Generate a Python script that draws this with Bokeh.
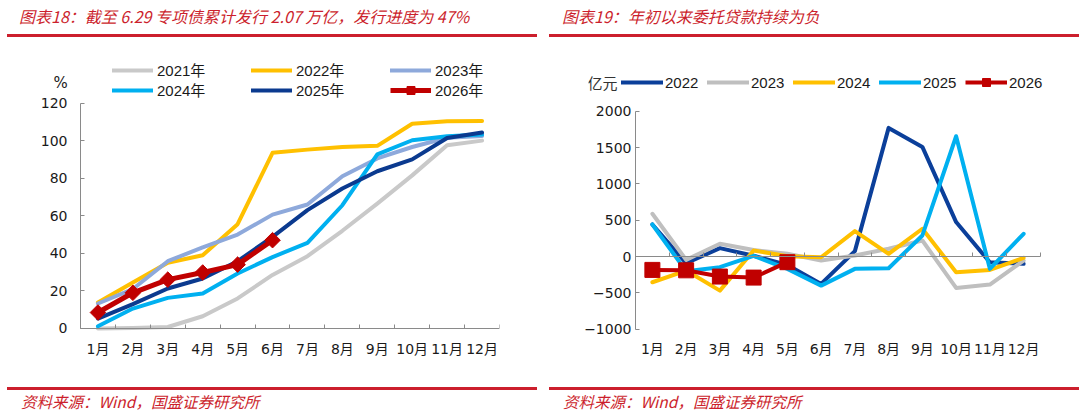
from bokeh.plotting import figure
from bokeh.layouts import column, row
from bokeh.models import Div, Legend, LegendItem, Label, LinearAxis, FixedTicker, Range1d
from bokeh.embed import file_html
from bokeh.resources import INLINE
import numpy as np

# ---------------- data ----------------
months = ["1月", "2月", "3月", "4月", "5月", "6月", "7月", "8月", "9月", "10月", "11月", "12月"]
month_pos = list(range(1, 13))

# 专项债累计发行进度（%）
prog_2021 = [0.0, 0.2, 0.8, 6.5, 16.0, 28.5, 38.5, 52.0, 66.5, 81.5, 97.5, 100.0]
prog_2022 = [13.8, 24.5, 35.0, 39.0, 55.5, 93.5, 95.2, 96.6, 97.2, 109.0, 110.3, 110.5]
prog_2023 = [13.3, 21.0, 35.8, 43.2, 50.0, 60.6, 66.0, 81.0, 90.5, 96.6, 101.5, 102.5]
prog_2024 = [1.2, 10.6, 16.3, 18.6, 29.3, 38.0, 45.6, 65.6, 92.7, 100.2, 102.3, 103.2]
prog_2025 = [5.3, 13.0, 21.3, 26.6, 35.8, 48.8, 63.0, 74.5, 83.7, 90.0, 101.4, 104.3]
prog_2026 = [8.5, 19.0, 26.0, 29.8, 34.0, 47.0]
prog_ticks = [0, 20, 40, 60, 80, 100, 120]

# 委托贷款当月新增（亿元）
loan_2022 = [441, -92, 115, 10, -115, -377, 74, 1770, 1508, 474, -80, -101]
loan_2023 = [588, -46, 175, 90, 37, -55, 14, 106, 220, -432, -386, -55]
loan_2024 = [-354, -193, -469, 83, 5, -10, 349, 37, 382, -216, -184, -18]
loan_2025 = [441, -202, -147, 9, -170, -400, -170, -161, 290, 1655, -170, 313]
loan_2026 = [-184, -190, -276, -290, -78]
loan_ticks = [-1000, -500, 0, 500, 1000, 1500, 2000]

# ---------------- styles ----------------
RED = "#C00000"
TITLE_RED = "#CC1F2D"
AXIS_GREY = "#8A8A8A"
TEXT = "#1A1A1A"
TICK_FONT = "DejaVu Sans, Noto Sans CJK SC"
LEG_FONT = "Liberation Sans, Noto Sans CJK SC"
CJK_FONT = "Noto Sans CJK SC"
boundaries = [0.5 + i for i in range(13)]


def header(text, line_left, line_width, text_left):
    html = (
        '<div style="position:relative;width:540px;height:38px;overflow:hidden;">'
        f'<div style="position:absolute;left:{text_left}px;top:5px;white-space:nowrap;'
        f'font-family:\'{CJK_FONT}\';font-style:italic;font-size:16px;line-height:22px;'
        f'color:{TITLE_RED};">{text}</div>'
        f'<div style="position:absolute;left:{line_left}px;top:34px;width:{line_width}px;'
        f'height:3px;background:{TITLE_RED};"></div></div>'
    )
    return Div(text=html, width=540, height=38, margin=0)


def footer(text, line_left, line_width, text_left):
    html = (
        '<div style="position:relative;width:540px;height:32px;overflow:hidden;">'
        f'<div style="position:absolute;left:{line_left}px;top:4px;width:{line_width}px;'
        f'height:3px;background:{TITLE_RED};"></div>'
        f'<div style="position:absolute;left:{text_left}px;top:8px;white-space:nowrap;'
        f'font-family:\'{CJK_FONT}\';font-style:italic;font-size:15.5px;line-height:20px;'
        f'color:{TITLE_RED};">{text}</div></div>'
    )
    return Div(text=html, width=540, height=32, margin=0)


def make_fig(x_range, y_range, left, right):
    p = figure(width=540, height=345, x_range=Range1d(*x_range), y_range=Range1d(*y_range),
               output_backend="svg", toolbar_location=None, margin=0,
               min_border_left=left, min_border_right=right,
               min_border_top=17, min_border_bottom=49,
               outline_line_color=None, background_fill_color="white",
               border_fill_color="white")
    p.grid.visible = False
    return p


def add_axes(p, yticks, y_standoff):
    # tick labels of the value axis (line drawn by the axis fixed at the first category edge)
    ya = p.yaxis[0]
    ya.ticker = FixedTicker(ticks=yticks)
    ya.bounds = (yticks[0], yticks[-1])
    ya.axis_line_color = None
    ya.major_tick_line_color = None
    ya.minor_tick_line_color = None
    ya.major_tick_in = 0
    ya.major_tick_out = 0
    ya.major_label_text_font = TICK_FONT
    ya.major_label_text_font_size = "14px"
    ya.major_label_text_color = TEXT
    ya.major_label_standoff = y_standoff

    y_rule = LinearAxis(fixed_location=0.5, ticker=FixedTicker(ticks=[], minor_ticks=yticks),
                        bounds=(yticks[0], yticks[-1]), axis_line_color=AXIS_GREY,
                        minor_tick_line_color=AXIS_GREY, minor_tick_in=4, minor_tick_out=0,
                        major_tick_in=0, major_tick_out=0, major_label_text_font_size="0px")
    p.add_layout(y_rule, "left")

    # month labels along the bottom
    xa = p.xaxis[0]
    xa.ticker = FixedTicker(ticks=month_pos)
    xa.major_label_overrides = {m: lab for m, lab in zip(month_pos, months)}
    xa.major_label_text_font = TICK_FONT
    xa.major_label_text_font_size = "14px"
    xa.major_label_text_color = TEXT
    xa.major_label_standoff = 6
    xa.major_tick_line_color = None
    xa.minor_tick_line_color = None
    xa.major_tick_in = 0
    xa.major_tick_out = 0
    xa.axis_line_color = None

    # category axis line along zero with marks at category edges
    x_rule = LinearAxis(fixed_location=0, ticker=FixedTicker(ticks=[], minor_ticks=boundaries),
                        bounds=(0.5, 12.5), axis_line_color=AXIS_GREY,
                        minor_tick_line_color=AXIS_GREY, minor_tick_in=4, minor_tick_out=0,
                        major_tick_in=0, major_tick_out=0, major_label_text_font_size="0px")
    p.add_layout(x_rule, "below")


line_kw = dict(line_width=4, line_join="round", line_cap="round")
leg_kw = dict(orientation="horizontal", padding=0, margin=0, spacing=0,
              border_line_color=None, background_fill_alpha=0,
              glyph_height=20, label_height=20,
              label_text_font=LEG_FONT, label_text_font_size="15px",
              label_text_color=TEXT, label_text_baseline="middle")

# ---------------- left: 专项债发行进度 ----------------
p1 = make_fig((-0.359, 12.5), (-3.2, 145.3), 50, 41)
add_axes(p1, prog_ticks, -17)

r21 = p1.line(month_pos, prog_2021, color="#C9C9C9", **line_kw)
r22 = p1.line(month_pos, prog_2022, color="#FFC000", **line_kw)
r23 = p1.line(month_pos, prog_2023, color="#8EA9DB", **line_kw)
r24 = p1.line(month_pos, prog_2024, color="#00B0F0", **line_kw)
r25 = p1.line(month_pos, prog_2025, color="#0B3A8F", **line_kw)
x26 = month_pos[:len(prog_2026)]
r26 = p1.line(x26, prog_2026, color=RED, line_width=5, line_join="round")
# small marker (hidden under the large ones) used as the legend symbol
r26k = p1.scatter(x26, prog_2026, marker="square", angle=np.pi / 4, size=6, color=RED)
r26m = p1.scatter(x26, prog_2026, marker="square", angle=np.pi / 4, size=11, color=RED)

leg1a = Legend(items=[LegendItem(label="2021年", renderers=[r21]),
                      LegendItem(label="2022年", renderers=[r22]),
                      LegendItem(label="2023年", renderers=[r23])],
               location=(62, 254), glyph_width=41, label_standoff=4, label_width=94,
               **leg_kw)
leg1b = Legend(items=[LegendItem(label="2024年", renderers=[r24]),
                      LegendItem(label="2025年", renderers=[r25]),
                      LegendItem(label="2026年", renderers=[r26, r26k])],
               location=(62, 234), glyph_width=41, label_standoff=4, label_width=94,
               **leg_kw)
p1.add_layout(leg1a)
p1.add_layout(leg1b)
p1.add_layout(Label(x=-0.07, y=130.4, text="%", text_align="center", text_baseline="middle",
                    text_font=TICK_FONT, text_font_size="15px", text_color=TEXT))

# ---------------- right: 委托贷款 ----------------
p2 = make_fig((-0.893, 12.678), (-1073, 2766), 48, 34)
add_axes(p2, loan_ticks, -43)

s22 = p2.line(month_pos, loan_2022, color="#0B3F9A", **line_kw)
s23 = p2.line(month_pos, loan_2023, color="#BFBFBF", **line_kw)
s24 = p2.line(month_pos, loan_2024, color="#FFC000", **line_kw)
s25 = p2.line(month_pos, loan_2025, color="#00B0F0", **line_kw)
z26 = month_pos[:len(loan_2026)]
s26 = p2.line(z26, loan_2026, color=RED, line_width=4, line_join="round")
s26k = p2.scatter(z26, loan_2026, marker="square", size=9, color=RED)
s26m = p2.scatter(z26, loan_2026, marker="square", size=15, color=RED)

leg2 = Legend(items=[LegendItem(label="2022", renderers=[s22]),
                     LegendItem(label="2023", renderers=[s23]),
                     LegendItem(label="2024", renderers=[s24]),
                     LegendItem(label="2025", renderers=[s25]),
                     LegendItem(label="2026", renderers=[s26, s26k])],
              location=(33, 242), glyph_width=42, label_standoff=2, label_width=42,
              **leg_kw)
p2.add_layout(leg2)
p2.add_layout(Label(x=-0.478, y=2394, text="亿元", text_align="center", text_baseline="middle",
                    text_font=CJK_FONT, text_font_size="15px", text_color="#333333"))

# ---------------- page ----------------
top = row(header("图表18：截至 6.29 专项债累计发行 2.07 万亿，发行进度为 47%", 7, 530, 19),
          header("图表19：年初以来委托贷款持续为负", 9, 530, 22), spacing=0)
mid = row(p1, p2, spacing=0)
bot = row(footer("资料来源：Wind，国盛证券研究所", 7, 530, 21),
          footer("资料来源：Wind，国盛证券研究所", 9, 530, 23), spacing=0)
page = column(top, mid, bot, spacing=0)

open("out.html", "w").write(file_html(page, INLINE))
